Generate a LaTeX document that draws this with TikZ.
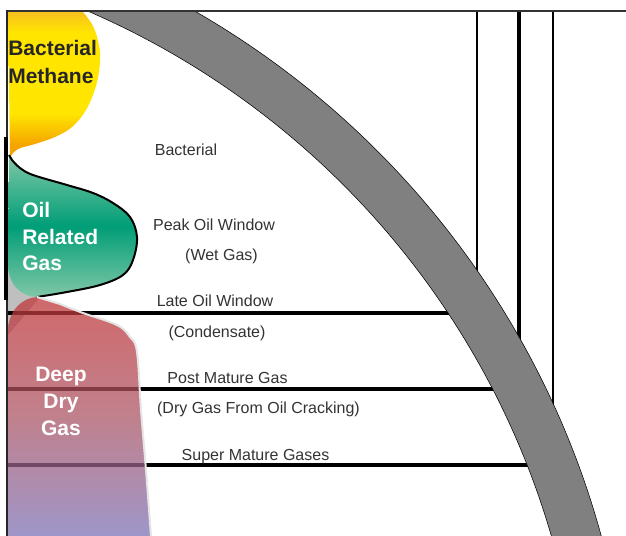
\documentclass[tikz,border=0pt]{standalone}
\usepackage{fontspec}
\setmainfont{Liberation Sans}
\usepackage{tikz}
\definecolor{methtop}{HTML}{F7C11F}
\definecolor{methmid}{HTML}{FFE500}
\definecolor{methbot}{HTML}{F5A300}
\definecolor{oiltop}{HTML}{80C7A7}
\definecolor{oilmid}{HTML}{009E77}
\definecolor{deeptop}{HTML}{C03638}
\definecolor{deepmid}{HTML}{AB5666}
\definecolor{deepbot}{HTML}{7E73B6}
\pgfdeclareverticalshading{methane}{100bp}{color(0bp)=(methbot); color(29bp)=(methbot); color(40bp)=(methmid); color(68bp)=(methmid); color(75bp)=(methtop); color(100bp)=(methtop)}

\begin{document}
\begin{tikzpicture}[x=0.75pt, y=-0.75pt,
    zone/.style={font=\fontsize{12}{14}\selectfont, text=black!80, anchor=base, inner sep=0pt},
    gasname/.style={font=\fontsize{15.75}{19}\selectfont\bfseries, inner sep=0pt},
    window/.style={line width=2.6pt}]
    \useasboundingbox (0,0) rectangle (626,536);
    \fill[black!25] (8,262) -- (40,297) -- (8,335) -- cycle;
    \shade[shading=methane]
        (8,12) -- plot[smooth, tension=0.6] coordinates {(83,12) (93,26) (99,45) (100,62) (96,86) (86,110) (72,127) (55,137) (35,144) (18,149) (10,157)} -- cycle;
    \shade[top color=oiltop, bottom color=oiltop, middle color=oilmid]
        (9,155) -- plot[smooth, tension=0.6] coordinates {(12,160) (20,168) (33,175) (67,185) (93,193) (113,203) (130,217) (137,237) (133,260) (123,275) (100,285) (67,292) (37,297)} .. controls (20,296) and (8,285) .. (8,262) -- cycle;
    \draw[line width=1.5pt] (9,155) -- plot[smooth, tension=0.6] coordinates {(12,160) (20,168) (33,175) (67,185) (93,193) (113,203) (130,217) (137,237) (133,260) (123,275) (100,285) (67,292) (37,297)};
    \coordinate (late) at (477,313);
    \coordinate (post) at (519,389);
    \coordinate (super) at (553,465);
    \draw[window] (8,313) -- (late);
    \draw[window] (8,389) -- (post);
    \draw[window] (8,465) -- (super);
    \draw[line width=1.8pt] (late) -- (late |- 0,11);
    \draw[line width=3pt] (post) -- (post |- 0,11);
    \draw[line width=2.2pt] (super) -- (super |- 0,11);
    \shade[top color=deeptop, bottom color=deepbot, middle color=deepmid, fill opacity=0.75]
        (8,536) -- (8,330) .. controls (9,310) and (22,298) .. (37,297) -- plot[smooth, tension=0.6] coordinates {(60,304) (83,313) (117,325) (130,337) (137,352) (141,410) (146,470) (151,536)} -- cycle;
    \draw[black!10, line width=1.5pt] (37,297) -- plot[smooth, tension=0.6] coordinates {(60,304) (83,313) (117,325) (130,337) (137,352) (141,410) (146,470) (151,536)};
    \begin{scope}
        \clip (8,11) rectangle (626,536);
        \coordinate (c) at (-238,766);
        \filldraw[fill=black!50, draw=black, line width=0.4pt, even odd rule] (c) circle[radius=652.5pt] (c) circle[radius=616.5pt];
    \end{scope}
    \draw[black!80, line width=1.8pt] (7,11) -- (626,11);
    \draw[black!85, line width=2pt] (7,10) -- (7,536);
    \draw[line width=2.8pt] (6,137) -- (6,300);
    \node[gasname, text=black!85, anchor=base west] (bm1) at (8,55) {Bacterial};
    \node[gasname, text=black!85, anchor=base west] (bm2) at (8,83) {Methane};
    \node[gasname, text=white, anchor=base west] (og1) at (22,217) {Oil};
    \node[gasname, text=white, anchor=base west] (og2) at (22,244) {Related};
    \node[gasname, text=white, anchor=base west] (og3) at (22,270) {Gas};
    \node[gasname, text=white, anchor=base] (dg1) at (61,381) {Deep};
    \node[gasname, text=white, anchor=base] (dg2) at (61,408) {Dry};
    \node[gasname, text=white, anchor=base] (dg3) at (61,435) {Gas};
    \node[zone] (bact) at (186,155) {Bacterial};
    \node[zone] (peak) at (214,230) {Peak Oil Window};
    \node[zone] (wet) at (221.5,260) {(Wet Gas)};
    \node[zone] (late-t) at (215,306) {Late Oil Window};
    \node[zone] (cond) at (217,337) {(Condensate)};
    \node[zone] (post-t) at (227.5,383) {Post Mature Gas};
    \node[zone] (dry) at (258.5,413) {(Dry Gas From Oil Cracking)};
    \node[zone] (super-t) at (255.5,460) {Super Mature Gases};
\end{tikzpicture}
\end{document}
